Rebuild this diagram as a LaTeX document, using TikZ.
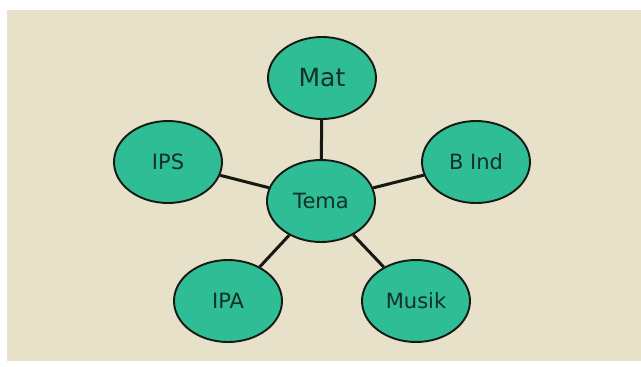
\documentclass[tikz,border=0pt]{standalone}
\usepackage{fontspec}
\setmainfont{DejaVu Sans}
\usetikzlibrary{shapes.geometric}
\definecolor{sfondo}{RGB}{231,225,202}
\definecolor{foglia}{RGB}{46,189,148}
\definecolor{bordo}{RGB}{22,24,18}
\definecolor{testo}{RGB}{18,48,38}
\begin{document}
\begin{tikzpicture}[x=1pt,y=-1pt,
  materia/.style={draw=bordo,line width=1.9pt,ellipse,fill=foglia,text=testo,
    minimum width=108pt,minimum height=82pt,inner sep=0pt,
    font=\fontsize{21}{24}\selectfont},
  legame/.style={draw=bordo,line width=3pt}]
  % sfondo
  \useasboundingbox (0,0) rectangle (641,367);
  \fill[white] (0,0) rectangle (641,367);
  \fill[sfondo] (7,10) rectangle (641,361);

  % tema centrale
  \node[materia] (tema) at (321,201) {Tema};

  % materie
  \node[materia,font=\fontsize{25}{28}\selectfont] (mat) at (322,78) {Mat};
  \node[materia] (ips) at (168,162) {IPS};
  \node[materia] (bind) at (476,162) {B Ind};
  \node[materia] (ipa) at (228,301) {IPA};
  \node[materia] (musik) at (416,301) {Musik};

  % collegamenti
  \draw[legame] (tema) -- (mat);
  \draw[legame] (tema) -- (ips);
  \draw[legame] (tema) -- (bind);
  \draw[legame] (tema) -- (ipa);
  \draw[legame] (tema) -- (musik);
\end{tikzpicture}
\end{document}
